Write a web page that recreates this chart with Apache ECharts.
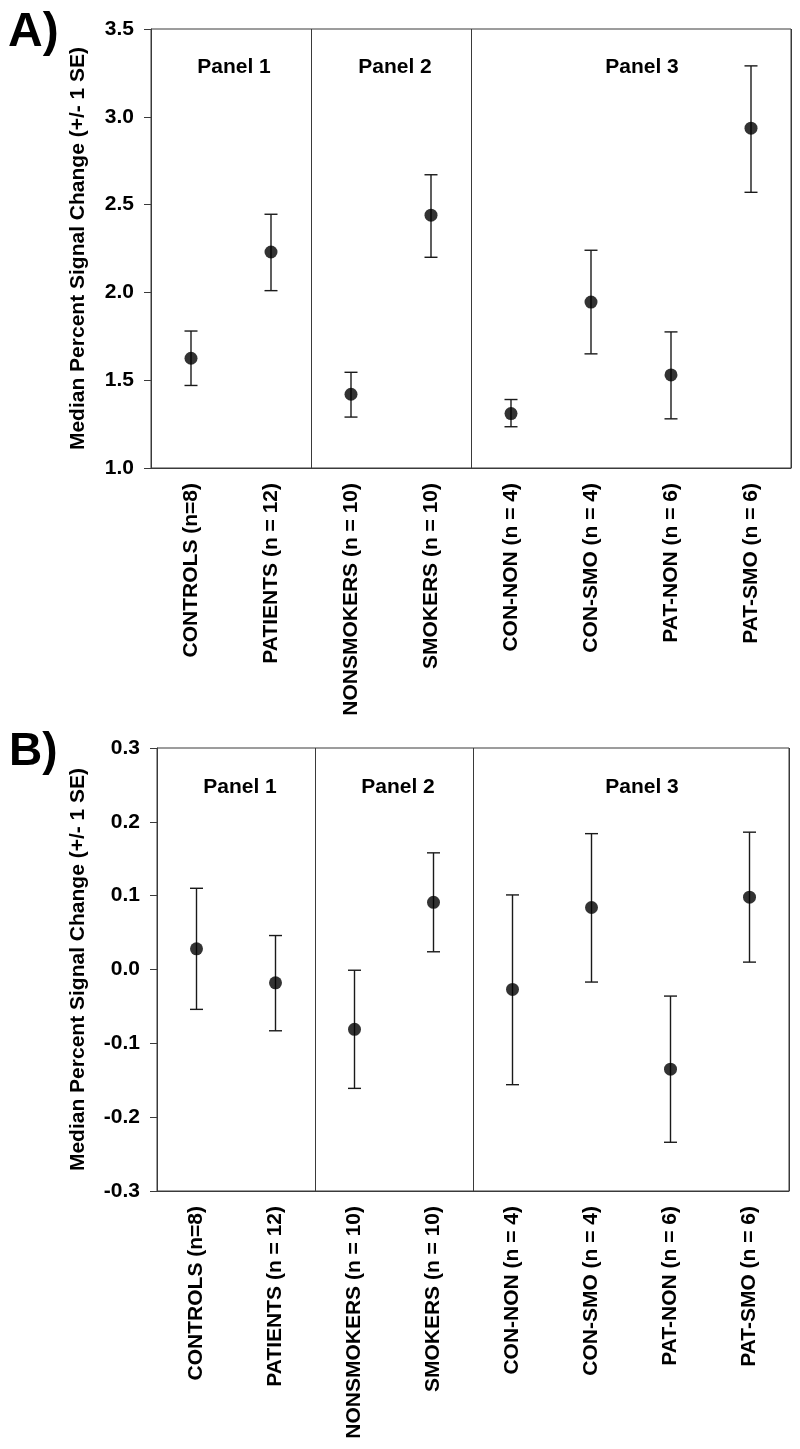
<!DOCTYPE html>
<html>
<head>
<meta charset="utf-8">
<script src="https://cdn.jsdelivr.net/npm/echarts@6/dist/echarts.min.js"></script>
<style>
html,body{margin:0;padding:0;background:#fff;}
#chart{width:800px;height:1449px;}
</style>
</head>
<body>
<div id="chart"></div>
<script>
// ---- data ----
const categories = ['CONTROLS (n=8)', 'PATIENTS (n = 12)', 'NONSMOKERS (n = 10)', 'SMOKERS (n = 10)',
  'CON-NON (n = 4)', 'CON-SMO (n = 4)', 'PAT-NON (n = 6)', 'PAT-SMO (n = 6)'];
const panelTitles = ['Panel 1', 'Panel 2', 'Panel 3'];
const yAxisName = 'Median Percent Signal Change (+/- 1 SE)';

const medianA = [1.625, 2.23, 1.42, 2.44, 1.31, 1.945, 1.53, 2.935];
const upperA  = [1.78, 2.445, 1.545, 2.67, 1.39, 2.24, 1.775, 3.29];
const lowerA  = [1.47, 2.01, 1.29, 2.20, 1.235, 1.65, 1.28, 2.57];

const medianB = [0.028, -0.018, -0.081, 0.091, -0.027, 0.084, -0.135, 0.098];
const upperB  = [0.110, 0.046, -0.001, 0.158, 0.101, 0.184, -0.036, 0.186];
const lowerB  = [-0.054, -0.083, -0.161, 0.024, -0.156, -0.017, -0.234, 0.010];

const ticksA = {min: 1.0, max: 3.5, interval: 0.5};
const ticksB = {min: -0.3, max: 0.3, interval: 0.1};
const panelBoundaries = [2, 4]; // category index where a new panel starts

// ---- styling ----
const FONT = '"Liberation Sans", Arial, Helvetica, sans-serif';
const AXIS_COLOR = '#3a3a3a';
const BAR_COLOR = '#1a1a1a';
const FS = 21;

function fmt(v) { if (Math.abs(v) < 1e-9) v = 0; return v.toFixed(1); }

function errRender(params, api) {
  const x = api.value(0);
  const lo = api.coord([x, api.value(1)]);
  const hi = api.coord([x, api.value(2)]);
  const w = 6.5;
  const st = {stroke: BAR_COLOR, lineWidth: 1.4};
  return {type: 'group', children: [
    {type: 'line', shape: {x1: lo[0], y1: lo[1], x2: hi[0], y2: hi[1]}, style: st},
    {type: 'line', shape: {x1: lo[0] - w, y1: lo[1], x2: lo[0] + w, y2: lo[1]}, style: st},
    {type: 'line', shape: {x1: hi[0] - w, y1: hi[1], x2: hi[0] + w, y2: hi[1]}, style: st}
  ]};
}

function xAxisCfg(gi) {
  return {
    type: 'category', gridIndex: gi, data: categories, boundaryGap: true,
    axisLine: {onZero: false, lineStyle: {color: AXIS_COLOR, width: 1}},
    axisTick: {alignWithLabel: true, length: 7, lineStyle: {color: AXIS_COLOR}},
    axisLabel: {rotate: 90, interval: 0, margin: 15, color: '#000', fontFamily: FONT,
      fontWeight: 'bold', fontSize: FS},
    splitLine: {show: true, interval: (idx) => panelBoundaries.indexOf(idx) >= 0,
      lineStyle: {color: AXIS_COLOR, width: 1}}
  };
}
function yAxisCfg(gi, t, gap) {
  return {
    type: 'value', gridIndex: gi, min: t.min, max: t.max, interval: t.interval,
    name: yAxisName, nameLocation: 'middle', nameGap: gap, nameRotate: 90,
    nameTextStyle: {color: '#000', fontFamily: FONT, fontWeight: 'bold', fontSize: FS},
    axisLine: {show: true, onZero: false, lineStyle: {color: AXIS_COLOR, width: 1}},
    axisTick: {show: true, length: 7, lineStyle: {color: AXIS_COLOR}},
    axisLabel: {formatter: fmt, margin: 17, color: '#000', fontFamily: FONT,
      fontWeight: 'bold', fontSize: FS},
    splitLine: {show: false}
  };
}

const chart = echarts.init(document.getElementById('chart'), null, {renderer: 'canvas'});

const grids = [
  {left: 151, top: 29, width: 640, height: 439},
  {left: 157, top: 748, width: 632, height: 443}
];

const titleTextStyle = {fill: '#000', font: 'bold ' + FS + 'px ' + FONT, textAlign: 'center', textVerticalAlign: 'middle'};
const panelPosA = [234, 395, 642];
const panelPosB = [240, 398, 642];

const graphics = [
  {type: 'text', left: 8, top: 9, style: {text: 'A)', fill: '#000', font: 'bold 48px ' + FONT}},
  {type: 'text', left: 9, top: 729, style: {text: 'B)', fill: '#000', font: 'bold 46px ' + FONT}}
];
panelTitles.forEach((t, i) => {
  graphics.push({type: 'text', x: panelPosA[i], y: 67, style: Object.assign({text: t}, titleTextStyle)});
  graphics.push({type: 'text', x: panelPosB[i], y: 787, style: Object.assign({text: t}, titleTextStyle)});
});

chart.setOption({
  animation: false,
  backgroundColor: '#fff',
  grid: grids.map(g => Object.assign({show: true, borderColor: AXIS_COLOR, borderWidth: 1, containLabel: false}, g)),
  xAxis: [xAxisCfg(0), xAxisCfg(1)],
  yAxis: [yAxisCfg(0, ticksA, 62), yAxisCfg(1, ticksB, 68)],
  graphic: graphics,
  series: [
    {type: 'custom', xAxisIndex: 0, yAxisIndex: 0, renderItem: errRender,
      encode: {x: 0, y: [1, 2]}, data: categories.map((c, i) => [i, lowerA[i], upperA[i]]), z: 2},
    {type: 'scatter', xAxisIndex: 0, yAxisIndex: 0, data: medianA, symbol: 'circle', symbolSize: 13,
      itemStyle: {color: '#000'}, z: 3},
    {type: 'custom', xAxisIndex: 1, yAxisIndex: 1, renderItem: errRender,
      encode: {x: 0, y: [1, 2]}, data: categories.map((c, i) => [i, lowerB[i], upperB[i]]), z: 2},
    {type: 'scatter', xAxisIndex: 1, yAxisIndex: 1, data: medianB, symbol: 'circle', symbolSize: 13,
      itemStyle: {color: '#000'}, z: 3}
  ]
});
</script>
</body>
</html>
